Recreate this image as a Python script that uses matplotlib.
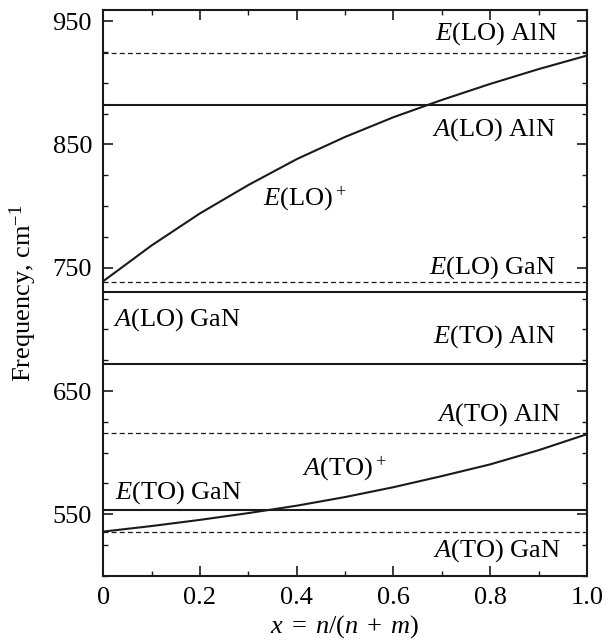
import numpy as np
import matplotlib
matplotlib.use("Agg")
import matplotlib.pyplot as plt
from matplotlib.ticker import MultipleLocator

plt.rcParams['font.family'] = 'Liberation Serif'
plt.rcParams['mathtext.fontset'] = 'custom'
plt.rcParams['mathtext.rm'] = 'Liberation Serif'
plt.rcParams['mathtext.it'] = 'Liberation Serif:italic'

# composition x and mixed-mode curves
x = [0.0, 0.1, 0.2, 0.3, 0.4, 0.5, 0.6, 0.7, 0.8, 0.9, 1.0]
elo_plus = [739, 768, 794, 817, 838, 856, 872, 886, 899, 911, 922]
ato_plus = [536, 540.5, 545.5, 551, 557, 564, 572, 581, 590.5, 602, 615]

# bulk phonon frequencies, cm^-1
solid_levels = {"A(LO) AlN": 881.5, "A(LO) GaN": 730, "E(TO) AlN": 672, "E(TO) GaN": 553.5}
dashed_levels = {"E(LO) AlN": 924, "E(LO) GaN": 738.5, "A(TO) AlN": 616, "A(TO) GaN": 535.5}

fig = plt.figure(figsize=(6.07, 6.44), dpi=100)
ax = fig.add_axes([0.170, 0.1056, 0.797, 0.879])

for name, v in solid_levels.items():
    ax.axhline(v, color='#1a1a1a', lw=1.5)
for name, v in dashed_levels.items():
    ax.axhline(v, color='#1a1a1a', lw=0.9, ls=(0, (4, 2.5)))

ax.plot(x, elo_plus, color='#1a1a1a', lw=1.5)
ax.plot(x, ato_plus, color='#1a1a1a', lw=1.5)

fs = 19
ax.text(0.94, 940, r"$E$(LO) AlN", ha='right', va='center', fontsize=fs)
ax.text(0.936, 862, r"$A$(LO) AlN", ha='right', va='center', fontsize=fs)
ax.text(0.936, 750, r"$E$(LO) GaN", ha='right', va='center', fontsize=fs)
ax.text(0.02, 708, r"$A$(LO) GaN", ha='left', va='center', fontsize=fs)
ax.text(0.936, 694, r"$E$(TO) AlN", ha='right', va='center', fontsize=fs)
ax.text(0.946, 631, r"$A$(TO) AlN", ha='right', va='center', fontsize=fs)
ax.text(0.025, 568, r"$E$(TO) GaN", ha='left', va='center', fontsize=fs)
ax.text(0.946, 521, r"$A$(TO) GaN", ha='right', va='center', fontsize=fs)
ax.text(0.33, 806, r"$E$(LO)$^+$", ha='left', va='center', fontsize=fs)
ax.text(0.41, 587, r"$A$(TO)$^+$", ha='left', va='center', fontsize=fs)

ax.set_xlim(0, 1)
ax.set_ylim(500, 959)
ax.xaxis.set_minor_locator(MultipleLocator(0.1))
ax.yaxis.set_minor_locator(MultipleLocator(25))
ax.set_yticks([550, 650, 750, 850, 950])
ax.set_xticks([0, 0.2, 0.4, 0.6, 0.8, 1.0])
ax.set_xticklabels(['0', '0.2', '0.4', '0.6', '0.8', '1.0'])

ax.tick_params(which='both', direction='in', top=True, right=True, labelsize=fs, color='#1a1a1a')
ax.tick_params(which='major', length=7.2, width=1.2, pad=8)
ax.tick_params(which='minor', length=3.6, width=1.0)
for s in ax.spines.values():
    s.set_linewidth(1.5)
    s.set_color('#1a1a1a')

ax.set_xlabel(r"$x\;=\;n$/($n\;+\;m$)", fontsize=fs, labelpad=3)
ax.set_ylabel(r"Frequency, cm$^{-1}$", fontsize=fs, labelpad=10)

fig.savefig("out.png", dpi=100)
